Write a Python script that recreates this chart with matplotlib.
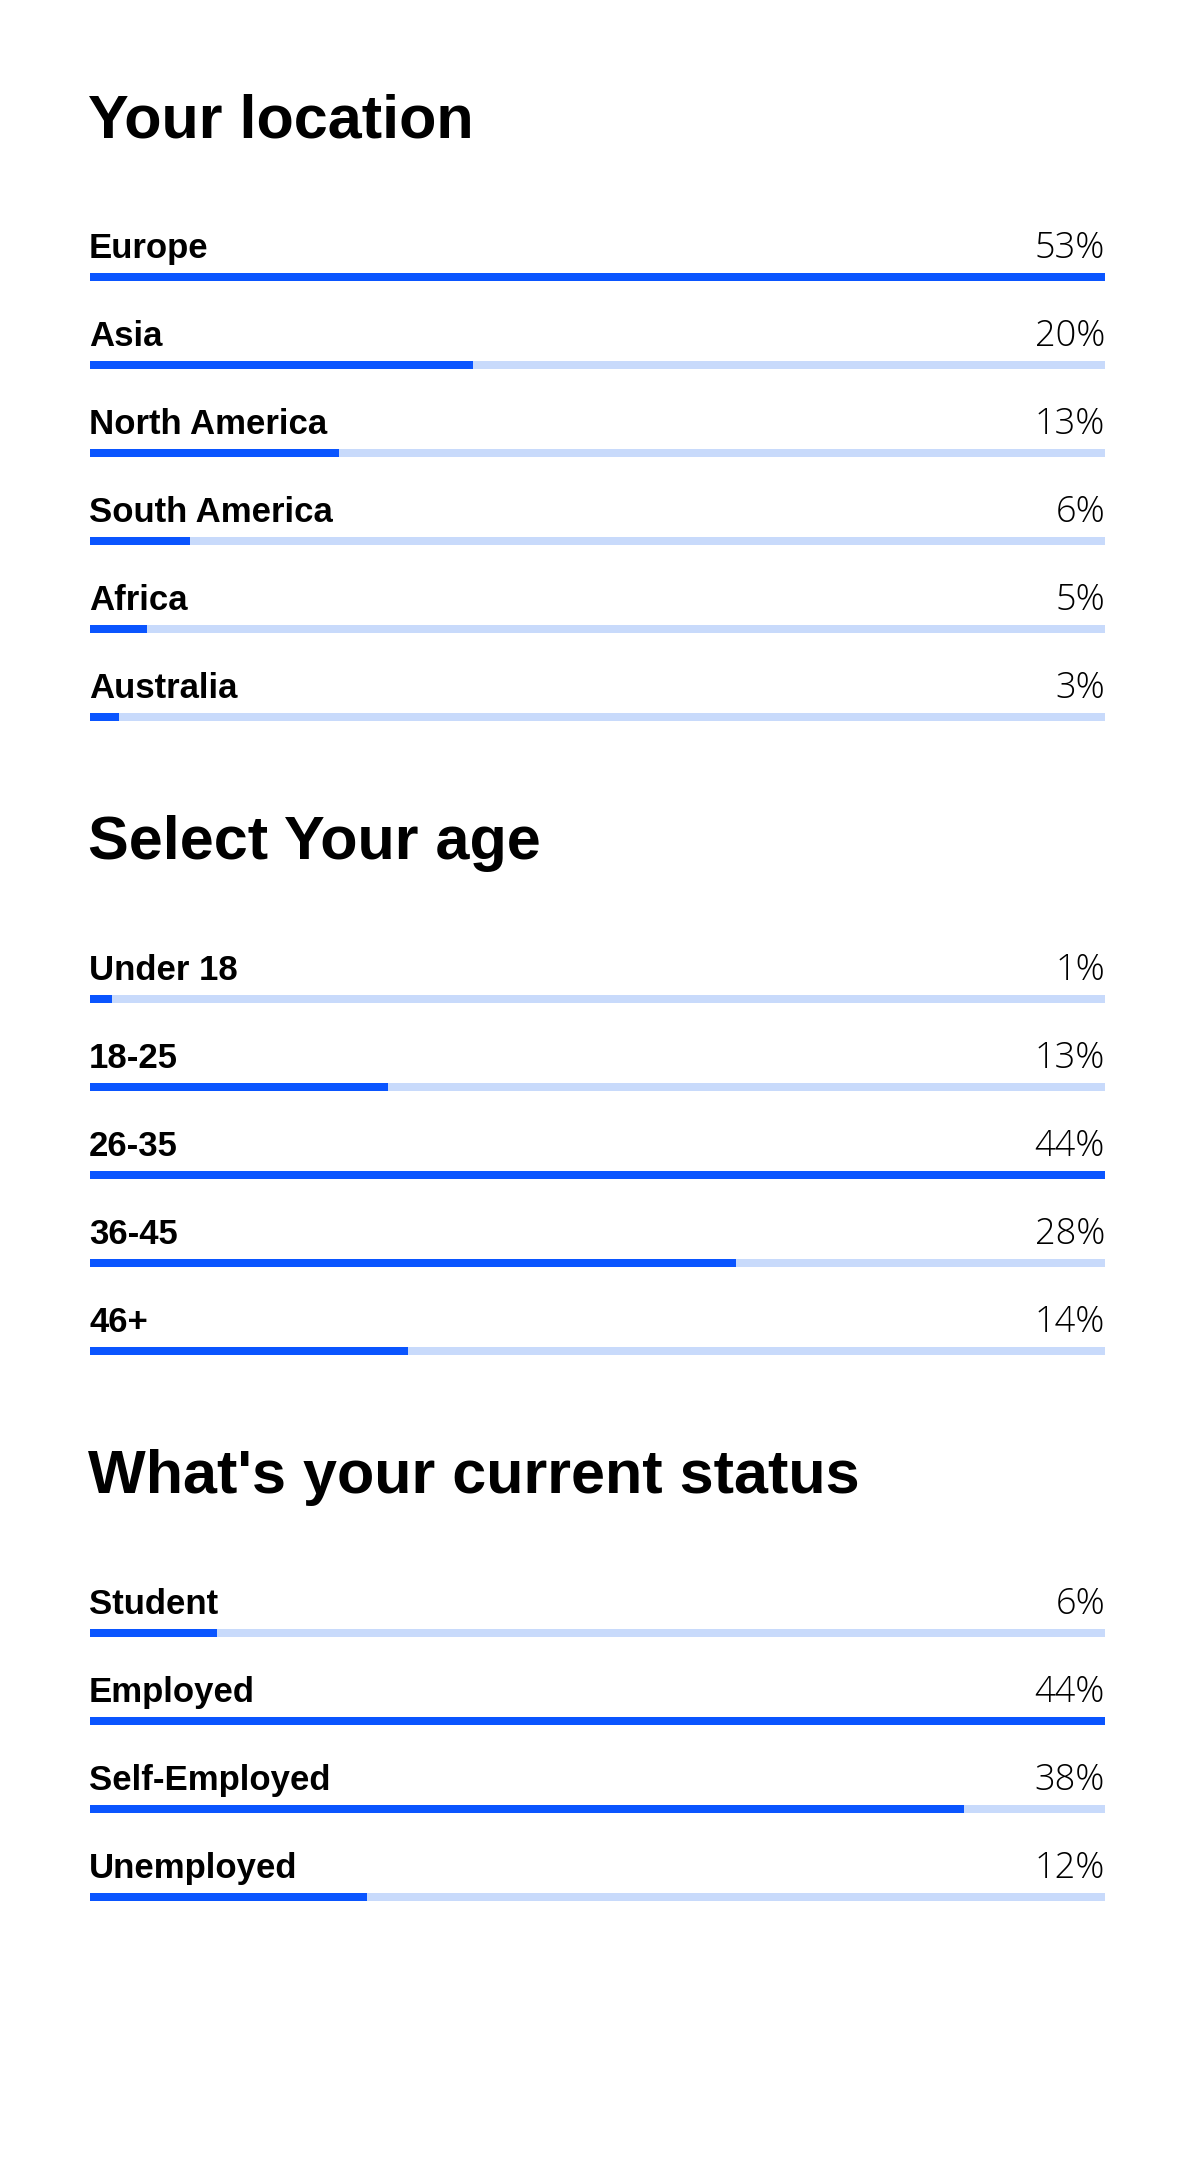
import matplotlib.pyplot as plt

# survey data: printed percentages and the bar lengths
location_labels = ['Europe', 'Asia', 'North America', 'South America', 'Africa', 'Australia']
location_values = [53, 20, 13, 6, 5, 3]
location_bars = [53, 20, 13, 5.2, 3.0, 1.5]

age_labels = ['Under 18', '18-25', '26-35', '36-45', '46+']
age_values = [1, 13, 44, 28, 14]
age_bars = [0.95, 12.9, 44, 28, 13.8]

status_labels = ['Student', 'Employed', 'Self-Employed', 'Unemployed']
status_values = [6, 44, 38, 12]
status_bars = [5.5, 44, 37.9, 12]

sections = [
    ("Your location", location_labels, location_values, location_bars),
    ("Select Your age", age_labels, age_values, age_bars),
    ("What's your current status", status_labels, status_values, status_bars),
]

BLUE = '#0A55FF'
LIGHT = '#C8DAFB'
LEFT = 90
RIGHT = 1105
ROW = 88
BAR_H = 8

fig = plt.figure(figsize=(12, 21.74), dpi=100)
ax = fig.add_axes([0, 0, 1, 1])
ax.set_xlim(0, 1200)
ax.set_ylim(2174, 0)
ax.axis('off')

title_font = dict(family=['Liberation Sans', 'DejaVu Sans'], weight='bold', size=44)
label_font = dict(family=['Liberation Sans', 'DejaVu Sans'], weight='bold', size=25)
pct_font = dict(family=['Open Sans', 'DejaVu Sans'], weight='light', size=26)

y = 137
for title, labels, values, bars in sections:
    ax.text(LEFT - 2, y, title, va='baseline', ha='left', color='black', **title_font)
    y += 140
    vmax = max(bars)
    for lab, v, b in zip(labels, values, bars):
        ax.barh(y, RIGHT - LEFT, left=LEFT, height=BAR_H, color=LIGHT)
        ax.barh(y, (RIGHT - LEFT) * b / vmax, left=LEFT, height=BAR_H, color=BLUE)
        ax.text(LEFT - 1, y - 19, lab, va='baseline', ha='left', color='black', **label_font)
        ax.text(RIGHT, y - 19, f'{v}%', va='baseline', ha='right', color='black', **pct_font)
        y += ROW
    y += 142 - ROW

fig.savefig('out.png', dpi=100, facecolor='white')
